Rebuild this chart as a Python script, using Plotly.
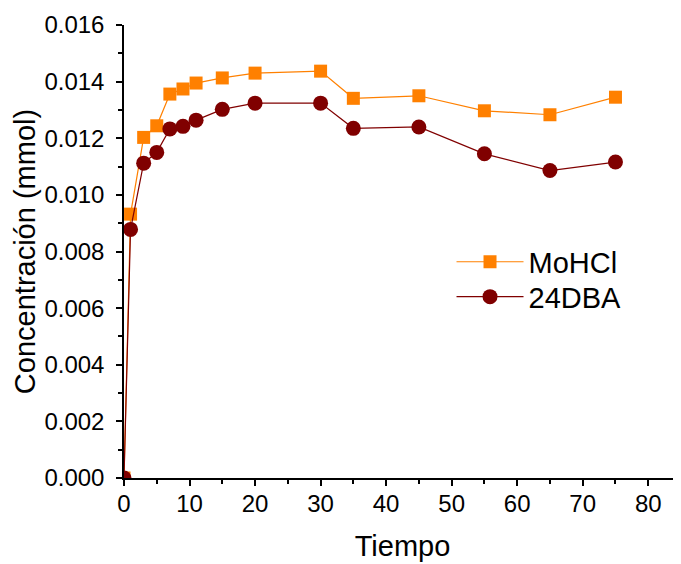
import plotly.graph_objects as go

tiempo = [0, 1, 3, 5, 7, 9, 11, 15, 20, 30, 35, 45, 55, 65, 75]
mohcl = [0.0, 0.00932, 0.01203, 0.01244, 0.01356, 0.01374, 0.01395, 0.01413, 0.01430, 0.01437,
         0.01341, 0.01350, 0.01297, 0.01283, 0.01345]
dba24 = [0.0, 0.00878, 0.01112, 0.01150, 0.01233, 0.01242, 0.01264, 0.01302, 0.01324, 0.01324,
         0.01235, 0.01240, 0.01145, 0.01086, 0.01116]

x_ticks = [0, 10, 20, 30, 40, 50, 60, 70, 80]
y_ticks = [0.000, 0.002, 0.004, 0.006, 0.008, 0.010, 0.012, 0.014, 0.016]
y_ticktext = ["0.000", "0.002", "0.004", "0.006", "0.008", "0.010", "0.012", "0.014", "0.016"]

FONT = "Liberation Sans, Arial, sans-serif"

fig = go.Figure()
fig.add_trace(go.Scatter(
    x=tiempo, y=mohcl, name="MoHCl", mode="lines+markers", legend="legend",
    line=dict(color="#FF8000", width=1.2),
    marker=dict(symbol="square", size=13, color="#FF8000"),
))
fig.add_trace(go.Scatter(
    x=tiempo, y=dba24, name="24DBA", mode="lines+markers", legend="legend2",
    line=dict(color="#800000", width=1.2),
    marker=dict(symbol="circle", size=15, color="#800000"),
))

leg_common = dict(xanchor="left", yanchor="middle", font=dict(size=29, family=FONT),
                  bgcolor="rgba(0,0,0,0)", itemwidth=67)

fig.update_layout(
    width=681, height=564,
    margin=dict(l=116, r=8, t=17, b=94),
    paper_bgcolor="white", plot_bgcolor="white",
    font=dict(family=FONT, color="black"),
    showlegend=True,
    legend=dict(x=0.588, y=0.477, **leg_common),
    legend2=dict(x=0.588, y=0.40, **leg_common),
    xaxis=dict(
        range=[0, 85], tickvals=x_ticks, showgrid=False, zeroline=False, automargin=False,
        showline=True, linecolor="black", linewidth=1.5,
        ticks="outside", ticklen=6, tickwidth=1.5, tickcolor="black", ticklabelstandoff=-3,
        tickfont=dict(size=24, family=FONT),
        minor=dict(dtick=5, ticks="outside", ticklen=4, tickwidth=1.5, tickcolor="black", showgrid=False),
        title=dict(text="Tiempo", font=dict(size=29, family=FONT), standoff=20),
    ),
    yaxis=dict(
        range=[0, 0.016], tickvals=y_ticks, ticktext=y_ticktext, showgrid=False, zeroline=False,
        automargin=False,
        showline=True, linecolor="black", linewidth=1.5,
        ticks="outside", ticklen=6, tickwidth=1.5, tickcolor="black", ticklabelstandoff=7,
        tickfont=dict(size=24, family=FONT),
        minor=dict(dtick=0.001, ticks="outside", ticklen=4, tickwidth=1.5, tickcolor="black", showgrid=False),
        title=dict(text="Concentración (mmol)", font=dict(size=29, family=FONT), standoff=0),
    ),
)

fig.write_html("out.html")
